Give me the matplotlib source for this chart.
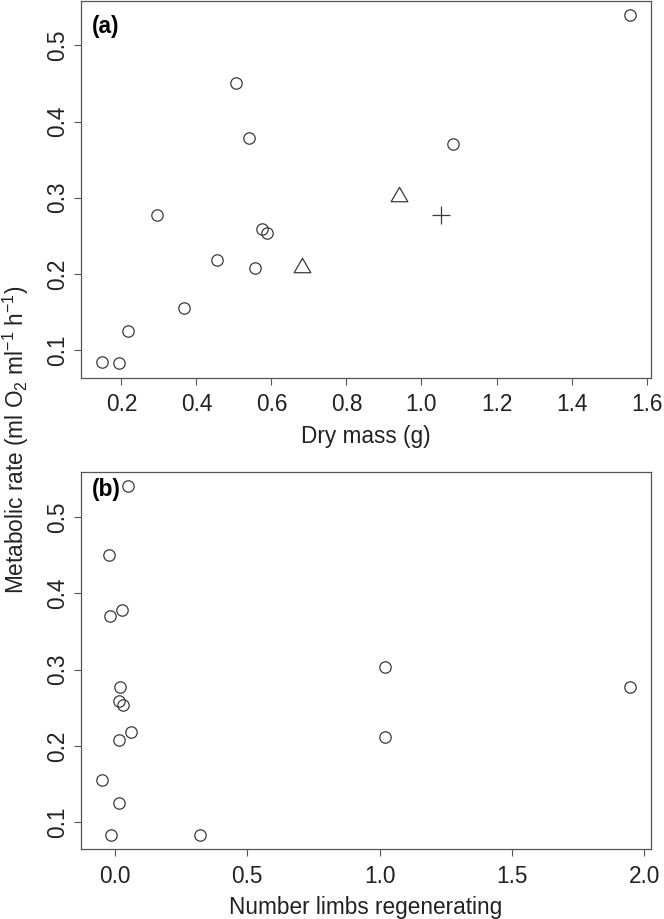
import matplotlib
matplotlib.use("Agg")
import matplotlib.pyplot as plt
from matplotlib.path import Path

plt.rcParams['font.family'] = ['Liberation Sans', 'DejaVu Sans']
plt.rcParams['mathtext.default'] = 'regular'

# panel (a): metabolic rate vs dry mass, symbol = limbs regenerating
mass_none = [0.148, 0.193, 0.218, 0.295, 0.367, 0.454, 0.506, 0.540, 0.556, 0.576, 0.589, 1.085, 1.556]
rate_none = [0.0842, 0.0825, 0.125, 0.277, 0.1547, 0.2186, 0.451, 0.378, 0.2077, 0.259, 0.254, 0.3705, 0.540]
mass_one = [0.682, 0.939]
rate_one = [0.211, 0.305]
mass_two = [1.053]
rate_two = [0.277]

# panel (b): metabolic rate vs number of limbs regenerating (jittered)
limbs = [0.050, -0.023, -0.018, 0.028, 0.021, 0.015, 0.030, 0.059, 0.015, -0.049, 0.017, -0.015, 0.320, 1.021, 1.021, 1.944]
rate_limbs = [0.541, 0.450, 0.371, 0.378, 0.277, 0.259, 0.254, 0.2185, 0.2076, 0.1547, 0.125, 0.0834, 0.0824, 0.303, 0.2115, 0.2776]

ticks_mass = [0.2, 0.4, 0.6, 0.8, 1.0, 1.2, 1.4, 1.6]
ticks_limbs = [0.0, 0.5, 1.0, 1.5, 2.0]
ticks_rate = [0.1, 0.2, 0.3, 0.4, 0.5]

mark = '#3a3a3a'
frame = '#555555'
txt = '#222222'
fs = 16.3

W, H = 664, 919
fig = plt.figure(figsize=(W / 100, H / 100), dpi=100)
ax1 = fig.add_axes([81 / W, 1 - 377.7 / H, 570 / W, 377.2 / H])
ax2 = fig.add_axes([81 / W, 1 - 849.3 / H, 570 / W, 377.0 / H])

# R style open triangle (pch = 2)
tri = Path([(-1, -0.866), (1, -0.866), (0, 0.866), (-1, -0.866)], closed=True)
circ = dict(marker='o', ms=8.2, mfc='none', mec=mark, mew=0.9, ls='none')

ax1.plot(mass_none, rate_none, **circ)
ax1.plot(mass_one, rate_one, marker=tri, ms=12, mfc='none', mec=mark, mew=0.9, ls='none')
ax1.plot(mass_two, rate_two, marker='+', ms=12.5, mec=mark, mew=0.9, ls='none')
ax2.plot(limbs, rate_limbs, **circ)

ax1.set_xlim(0.0925, 1.6117)
ax1.set_ylim(0.0636, 0.559)
ax2.set_xlim(-0.128, 2.025)
ax2.set_ylim(0.0642, 0.559)
ax1.set_xticks(ticks_mass)
ax1.set_xticklabels(['%.1f' % t for t in ticks_mass])
ax2.set_xticks(ticks_limbs)
ax2.set_xticklabels(['%.1f' % t for t in ticks_limbs])

for ax in (ax1, ax2):
    ax.set_yticks(ticks_rate)
    ax.set_yticklabels(['%.1f' % t for t in ticks_rate], rotation=90, va='center')
    for s in ax.spines.values():
        s.set_color(frame)
        s.set_linewidth(0.9)
    ax.tick_params(length=5, width=0.8, color=frame, labelsize=fs, labelcolor=txt)
    ax.tick_params(axis='x', pad=6.2)
    ax.tick_params(axis='y', pad=3.5)

ax1.set_xlabel('Dry mass (g)', fontsize=fs, color=txt, labelpad=6.5)
ax2.set_xlabel('Number limbs regenerating', fontsize=fs, color=txt, labelpad=6)

ax1.text(0.019, 0.932, '(a)', transform=ax1.transAxes, fontsize=fs, fontweight='bold', va='center', ha='left')
ax2.text(0.019, 0.954, '(b)', transform=ax2.transAxes, fontsize=fs, fontweight='bold', va='center', ha='left')

fig.text(15.5 / W, 1 - 440 / H, 'Metabolic rate (ml O$_2$ ml$^{-1}$ h$^{-1}$)', rotation=90,
         fontsize=fs, color=txt, ha='center', va='center')

fig.savefig('out.png', dpi=100)
